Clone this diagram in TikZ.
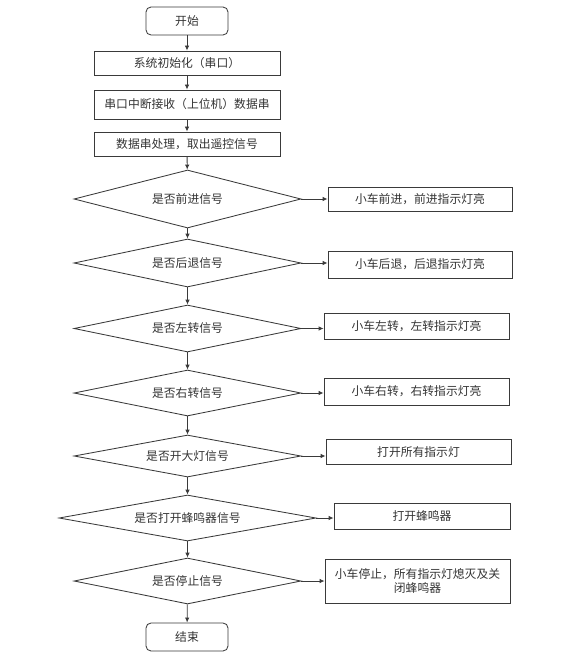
\documentclass[tikz,border=0pt]{standalone}
\usepackage{fontspec}
\newfontfamily\cjk{Noto Sans CJK SC}
\usetikzlibrary{shapes.geometric,arrows.meta}
\definecolor{ln}{HTML}{3A3A3A}
\definecolor{tx}{HTML}{333333}
\tikzset{
  base/.style={draw=ln, line width=0.85pt, text=tx, font=\cjk\fontsize{11.8}{14.5}\selectfont, inner sep=0pt, align=center},
  term/.style={base, rectangle, rounded corners=5pt, minimum width=82pt, minimum height=28pt},
  proc/.style={base, rectangle, minimum width=186pt},
  act/.style={base, rectangle, minimum width=185pt},
  dec/.style={base, diamond, shape aspect=4, minimum width=227pt},
  arr/.style={draw=ln, line width=0.85pt, -{Latex[length=5pt,width=4.5pt]}}
}
\begin{document}
\begin{tikzpicture}[x=1pt,y=1pt]
\useasboundingbox (0,0) rectangle (586,-663);
\node[term] (start) at (187,-21) {开始};
\node[proc, minimum height=24pt] (init) at (187,-63) {系统初始化（串口）};
\node[proc, minimum height=29pt] (recv) at (187,-104.5) {串口中断接收（上位机）数据串};
\node[proc, minimum height=24pt] (parse) at (187,-144) {数据串处理，取出遥控信号};
\node[dec, minimum height=58pt] (d1) at (187.5,-199) {是否前进信号};
\node[dec, minimum height=48pt] (d2) at (187.5,-263) {是否后退信号};
\node[dec, minimum height=47pt] (d3) at (187.5,-328.5) {是否左转信号};
\node[dec, minimum height=46pt] (d4) at (187.5,-393) {是否右转信号};
\node[dec, minimum height=42pt] (d5) at (187.5,-456) {是否开大灯信号};
\node[dec, minimum height=46pt, minimum width=257pt] (d6) at (187.5,-518) {是否打开蜂鸣器信号};
\node[dec, minimum height=46pt] (d7) at (187.5,-581) {是否停止信号};
\node[term] (stop) at (187,-637) {结束};
\node[act, minimum width=184pt, minimum height=24pt] (b1) at (420,-199) {小车前进，前进指示灯亮};
\node[act, minimum width=184pt, minimum height=27pt] (b2) at (420,-264.5) {小车后退，后退指示灯亮};
\node[act, minimum height=26pt] (b3) at (416.5,-326) {小车左转，左转指示灯亮};
\node[act, minimum height=27pt] (b4) at (416.5,-391.5) {小车右转，右转指示灯亮};
\node[act, minimum height=25pt] (b5) at (418.5,-451.8) {打开所有指示灯};
\node[act, minimum width=176pt, minimum height=26pt] (b6) at (422,-516) {打开蜂鸣器};
\node[act, minimum height=44pt, text width=172pt] (b7) at (417.5,-581) {小车停止，所有指示灯熄灭及关\\闭蜂鸣器};
\draw[arr] (start) -- (init);
\draw[arr] (init) -- (recv);
\draw[arr] (recv) -- (parse);
\draw[arr] (parse) -- (d1);
\draw[arr] (d1) -- (d2);
\draw[arr] (d2) -- (d3);
\draw[arr] (d3) -- (d4);
\draw[arr] (d4) -- (d5);
\draw[arr] (d5) -- (d6);
\draw[arr] (d6) -- (d7);
\draw[arr] (d7) -- (stop);
\draw[arr] (d1.east) -- (d1.east -| b1.west);
\draw[arr] (d2.east) -- (d2.east -| b2.west);
\draw[arr] (d3.east) -- (d3.east -| b3.west);
\draw[arr] (d4.east) -- (d4.east -| b4.west);
\draw[arr] (d5.east) -- (d5.east -| b5.west);
\draw[arr] (d6.east) -- (d6.east -| b6.west);
\draw[arr] (d7.east) -- (d7.east -| b7.west);
\end{tikzpicture}
\end{document}
